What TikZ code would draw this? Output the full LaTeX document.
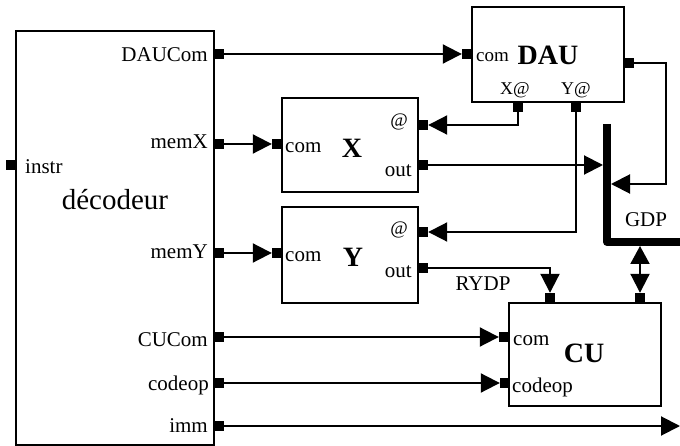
\documentclass[tikz,border=0pt]{standalone}
\usepackage{fontspec}
\setmainfont{Liberation Serif}
\usetikzlibrary{arrows.meta}
\begin{document}
\begin{tikzpicture}[x=1pt,y=-1pt,
  blk/.style={draw, line width=2pt, rectangle, inner sep=0pt},
  port/.style={fill=black, rectangle, inner sep=0pt, minimum width=10pt, minimum height=10pt},
  wire/.style={line width=2pt},
  arr/.style={line width=2pt, -{Triangle[length=19pt,width=19pt]}},
  dblarr/.style={line width=2pt, {Triangle[length=18pt,width=19pt]}-{Triangle[length=19pt,width=19pt]}},
  bus/.style={line width=8pt, line join=round},
  lbl/.style={inner sep=0pt, font=\fontsize{21}{24}\selectfont},
  slbl/.style={inner sep=0pt, font=\fontsize{19}{22}\selectfont},
  tlbl/.style={inner sep=0pt, font=\fontsize{18}{22}\selectfont},
  ttl/.style={inner sep=0pt, font=\fontsize{28}{32}\selectfont\bfseries},
  big/.style={inner sep=0pt, font=\fontsize{29}{34}\selectfont}]
\useasboundingbox (0,0) rectangle (680,446);

% boxes
\node[blk, minimum width=198pt, minimum height=414pt] (dec) at (115,238) {};
\node[blk, minimum width=136pt, minimum height=94pt] (xb) at (350,145) {};
\node[blk, minimum width=136pt, minimum height=96pt] (yb) at (350,255) {};
\node[blk, minimum width=152pt, minimum height=95pt] (dau) at (548,54.5) {};
\node[blk, minimum width=152pt, minimum height=103pt] (cu) at (585,354.5) {};

% ports
\node[port] (pDAUC) at (219,54) {};
\node[port] (pmemX) at (219,144) {};
\node[port] (pmemY) at (219,253) {};
\node[port] (pCUC) at (219,337) {};
\node[port] (pcode) at (219,383) {};
\node[port] (pimm) at (219,426) {};
\node[port] (pinstr) at (11,165) {};
\node[port] (pXcom) at (277,144) {};
\node[port] (pXat) at (423,125) {};
\node[port] (pXout) at (423,165) {};
\node[port] (pYcom) at (277,253) {};
\node[port] (pYat) at (423,232) {};
\node[port] (pYout) at (423,268) {};
\node[port] (pDcom) at (467,54) {};
\node[port] (pDX) at (518,107) {};
\node[port] (pDY) at (576,107) {};
\node[port] (pDR) at (629,63) {};
\node[port] (pCcom) at (504,337) {};
\node[port] (pCcode) at (505,383) {};
\node[port] (pCr) at (550,298) {};
\node[port] (pCg) at (640,298) {};

% bus
\coordinate (bustop) at (607,124);
\coordinate (buscorner) at (607,242);
\coordinate (busend) at (680,242);
\draw[bus] (bustop) -- (buscorner) -- (busend);
\coordinate (gdpin) at (603,165);
\coordinate (gdpin2) at (611,184);
\coordinate (gdpbot) at (640,246);
\coordinate (loopx) at (666,0);
\coordinate (immend) at (680,426);

% connectors
\draw[arr] (pDAUC.east) -- (pDcom.west);
\draw[arr] (pmemX.east) -- (pXcom.west);
\draw[arr] (pmemY.east) -- (pYcom.west);
\draw[arr] (pCUC.east) -- (pCcom.west);
\draw[arr] (pcode.east) -- (pCcode.west);
\draw[arr] (pimm.east) -- (immend);
\draw[arr] (pDX.south) |- (pXat.east);
\draw[arr] (pDY.south) |- (pYat.east);
\draw[arr] (pXout.east) -- (pXout.east -| gdpin);
\draw[arr] (pDR.east) -- (pDR.east -| loopx) |- (gdpin2);
\draw[arr] (pYout.east) -| (pCr.north);
\draw[dblarr] (gdpbot) -- (pCg.north);

% labels decoder
\node[lbl, anchor=base east] (tDAUC) at (208,62) {DAUCom};
\node[lbl, anchor=base east] (tmemX) at (208,149) {memX};
\node[lbl, anchor=base east] (tmemY) at (208,259) {memY};
\node[lbl, anchor=base east] (tCUC) at (208,346) {CUCom};
\node[lbl, anchor=base east] (tcode) at (209,390) {codeop};
\node[lbl, anchor=base east] (timm) at (208,432) {imm};
\node[lbl, anchor=base west] (tinstr) at (25,174) {instr};
\node[big, anchor=base] (tdec) at (115,210) {décodeur};

% X
\node[lbl, anchor=base west] (tXcom) at (285,153) {com};
\node[ttl, anchor=base] (tX) at (352,158) {X};
\node[slbl, anchor=base east] (tXat) at (408,127) {@};
\node[lbl, anchor=base east] (tXout) at (412,177) {out};
% Y
\node[lbl, anchor=base west] (tYcom) at (285,262) {com};
\node[ttl, anchor=base] (tY) at (353,267) {Y};
\node[slbl, anchor=base east] (tYat) at (408,235) {@};
\node[lbl, anchor=base east] (tYout) at (412,278) {out};
% DAU
\node[slbl, anchor=base west] (tDcom) at (476,62) {com};
\node[ttl, anchor=base] (tDAU) at (548,65) {DAU};
\node[tlbl, anchor=base] (tDX) at (515,95) {X@};
\node[tlbl, anchor=base] (tDY) at (576,95) {Y@};
% bus / misc
\node[lbl, anchor=base] (tGDP) at (646,227) {GDP};
\node[lbl, anchor=base] (tRYDP) at (483,291) {RYDP};
% CU
\node[lbl, anchor=base west] (tCcom) at (513,345) {com};
\node[ttl, anchor=base] (tCU) at (584,362) {CU};
\node[lbl, anchor=base west] (tCcode) at (512,392) {codeop};
\end{tikzpicture}
\end{document}
